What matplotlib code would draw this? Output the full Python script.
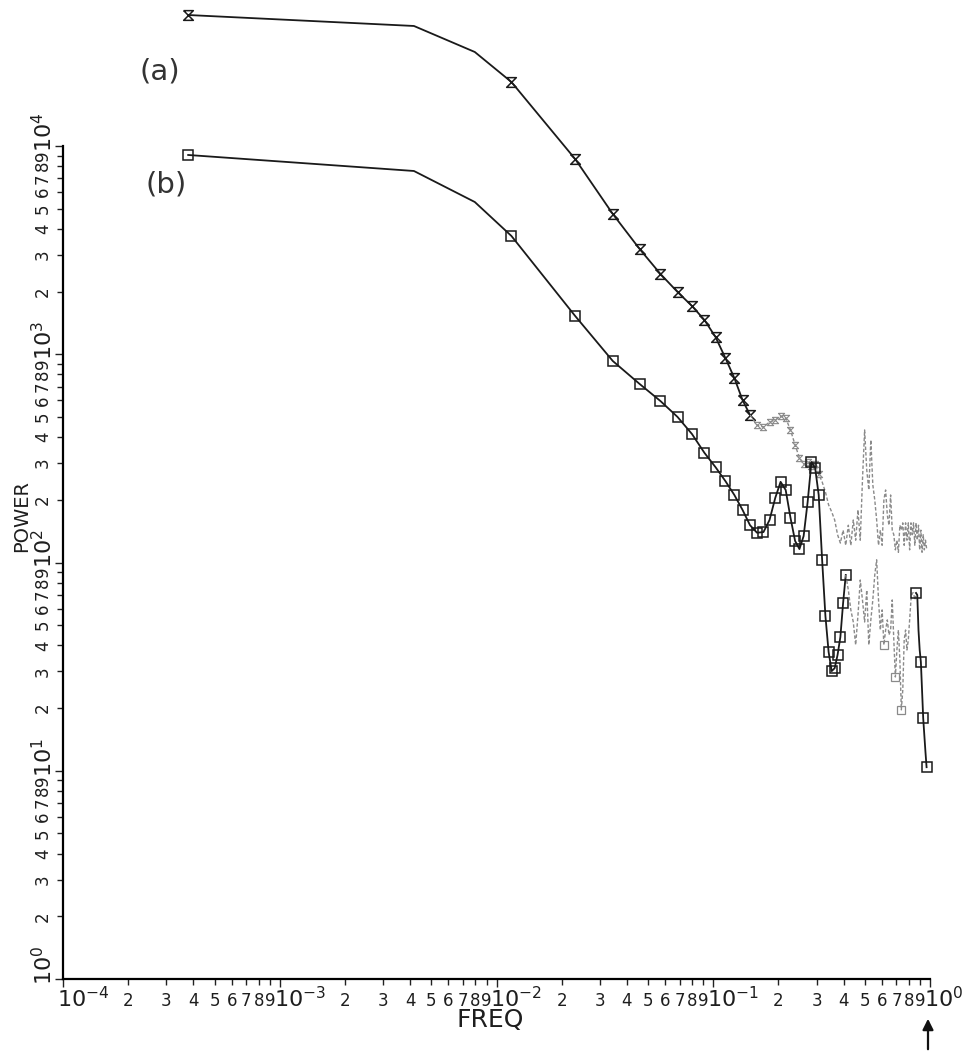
import matplotlib
matplotlib.use('Agg')
import matplotlib.pyplot as plt
from matplotlib.path import Path
from matplotlib import transforms as mtrans

# ---------------- data ----------------
freq = [0.000378, 0.00416, 0.00794, 0.01172, 0.02306, 0.03440, 0.04574, 0.05708,
        0.06842, 0.07976, 0.09110, 0.10244, 0.11378, 0.12512, 0.13646, 0.14780,
        0.15914, 0.17048, 0.18182, 0.19316, 0.20450, 0.21584, 0.22718, 0.23852,
        0.24986, 0.26120, 0.27254, 0.28388, 0.29522, 0.30656, 0.31790, 0.32924,
        0.34058, 0.35192, 0.36326, 0.37460, 0.38594, 0.39728, 0.40862, 0.41996,
        0.43130, 0.44264, 0.45398, 0.46532, 0.47666, 0.48800, 0.49934, 0.51068,
        0.52202, 0.53336, 0.54470, 0.55604, 0.56738, 0.57872, 0.59006, 0.60140,
        0.61274, 0.62408, 0.63542, 0.64676, 0.65810, 0.66944, 0.68078, 0.69212,
        0.70346, 0.71480, 0.72614, 0.73748, 0.74882, 0.76016, 0.77150, 0.78284,
        0.79418, 0.80552, 0.81686, 0.82820, 0.83954, 0.85088, 0.86222, 0.87356,
        0.88490, 0.89624, 0.90758, 0.91892, 0.93026, 0.94160, 0.95294, 0.96428]

power_a = [42560, 37700, 28280, 20290, 8660, 4716, 3202, 2429,
           1991, 1705, 1460, 1210, 959, 769, 603, 511,
           457, 447, 473, 483, 505, 494, 433, 367,
           318, 297, 304, 291, 297, 266, 244, 218,
           189, 175, 160, 136, 124, 143, 121, 151,
           121, 160, 128, 179, 128, 249, 433, 278,
           223, 388, 236, 200, 160, 121, 143, 121,
           200, 223, 169, 151, 211, 143, 136, 115,
           128, 112, 151, 143, 155, 121, 155, 128,
           155, 115, 155, 136, 155, 121, 155, 128,
           151, 115, 143, 112, 136, 115, 128, 117]

power_b = [9055, 7586, 5384, 3697, 1527, 928, 720, 596,
           500, 414, 336, 287, 246, 211, 179, 151,
           139, 140, 160, 204, 244, 223, 164, 127,
           116, 134, 195, 304, 284, 211, 103, 55.3,
           37.2, 30.1, 31.1, 36.0, 43.9, 63.9, 87.1, 73.8,
           59.2, 51.8, 40.2, 56.0, 82.4, 66.1, 51.8, 73.8,
           40.2, 53.0, 66.1, 87.1, 103, 66.1, 47.4, 59.2,
           40.2, 47.4, 53.0, 44.9, 47.4, 66.1, 42.5, 28.2,
           38.0, 47.4, 34.0, 19.6, 24.4, 42.5, 47.4, 38.0,
           42.5, 53.0, 66.1, 71.4, 71.4, 66.1, 71.4, 69.8,
           47.4, 38.0, 33.3, 24.4, 17.9, 14.8, 12.3, 10.4]

x_decades = [-4, -3, -2, -1, 0]
y_decades = [0, 1, 2, 3, 4]
minor_digits = [2, 3, 4, 5, 6, 7, 8, 9]
series_labels = ['(a)', '(b)']

# ---------------- figure ----------------
W, H = 969, 1056
fig = plt.figure(figsize=(W / 100, H / 100), dpi=100)
ax = fig.add_axes([63 / W, 77 / H, 867 / W, 979 / H])
ax.set_xscale('log')
ax.set_yscale('log')
ax.set_xlim(1e-4, 1)
ax.set_ylim(1, 10 ** (979 / 208.25))

for s in ('top', 'right'):
    ax.spines[s].set_visible(False)
ax.spines['left'].set_bounds(1, 1e4)
ax.spines['bottom'].set_bounds(1e-4, 1)
ax.spines['left'].set_linewidth(1.6)
ax.spines['bottom'].set_linewidth(1.6)

ax.set_xticks([10.0 ** d for d in x_decades])
ax.set_xticks([k * 10.0 ** d for d in x_decades[:-1] for k in minor_digits], minor=True)
ax.set_yticks([10.0 ** d for d in y_decades])
ax.set_yticks([k * 10.0 ** d for d in y_decades[:-1] for k in minor_digits], minor=True)
ax.tick_params(which='both', direction='out', labelbottom=False, labelleft=False,
               width=1.0, color='#222222')
ax.tick_params(which='major', length=6)
ax.tick_params(which='minor', length=4.5)

# tick labels drawn as text, plotter style
def off(dx, dy):
    return mtrans.ScaledTranslation(dx / 100, dy / 100, fig.dpi_scale_trans)

xt = mtrans.blended_transform_factory(ax.transData, ax.transAxes)
yt = mtrans.blended_transform_factory(ax.transAxes, ax.transData)
tc = '#1e1e1e'
for d in x_decades:
    ax.text(10.0 ** d, 0, r'$\mathregular{10^{%d}}$' % d, transform=xt + off(-6, -28),
            ha='left', va='baseline', fontsize=16, color=tc)
    if d < 0:
        for k in minor_digits:
            ax.text(k * 10.0 ** d, 0, str(k), transform=xt + off(0, -27),
                    ha='center', va='baseline', fontsize=12, color=tc)
for d in y_decades:
    ax.text(0, 10.0 ** d, r'$\mathregular{10^{%d}}$' % d, transform=yt + off(-11, -6),
            rotation=90, rotation_mode='anchor', ha='left', va='baseline',
            fontsize=16, color=tc)
    if d < 4:
        for k in minor_digits:
            ax.text(0, k * 10.0 ** d, str(k), transform=yt + off(-15, 0),
                    rotation=90, rotation_mode='anchor', ha='center', va='baseline',
                    fontsize=12, color=tc)

fig.text(490 / W, 1 - 1020 / H, 'FREQ', ha='center', va='center', fontsize=18, color=tc)
fig.text(22 / W, 1 - 516 / H, 'POWER', rotation=90, ha='center', va='center',
         fontsize=14, color=tc)

# ---------------- series ----------------
hourglass = Path([(-1, 1), (1, 1), (-1, -1), (1, -1), (-1, 1)],
                 [Path.MOVETO, Path.LINETO, Path.LINETO, Path.LINETO, Path.LINETO])
dark = '#1a1a1a'
faint = '#8a8a8a'

# (a)
ax.plot(freq[:16], power_a[:16], color=dark, lw=1.3, marker=hourglass, ms=7,
        mew=1.1, mfc='none', mec=dark, markevery=[0] + list(range(3, 16)), clip_on=False)
ax.plot(freq[15:], power_a[15:], color=faint, lw=1.0, ls=(0, (2.5, 1.5)),
        marker=hourglass, ms=4.5, mew=0.8, mfc='none', mec=faint,
        markevery=list(range(1, 15)), clip_on=False)

# (b)
ax.plot(freq[:39], power_b[:39], color=dark, lw=1.3, marker='s', ms=7,
        mew=1.1, mfc='none', mec=dark, markevery=[0] + list(range(3, 39)), clip_on=False)
ax.plot(freq[38:79], power_b[38:79], color=faint, lw=1.0, ls=(0, (2.5, 1.5)),
        marker='s', ms=6, mew=0.9, mfc='none', mec=faint, markevery=[18, 25, 29],
        clip_on=False)
ax.plot(freq[78:], power_b[78:], color=dark, lw=1.3, marker='s', ms=7,
        mew=1.1, mfc='none', mec=dark, markevery=[0, 4, 6, 9], clip_on=False)

# handwritten annotations
fig.text(160 / W, 1 - 72 / H, series_labels[0], ha='center', va='center', fontsize=21,
         color='#333333')
fig.text(166 / W, 1 - 185 / H, series_labels[1], ha='center', va='center', fontsize=21,
         color='#333333')
fig.add_artist(matplotlib.patches.FancyArrowPatch(
    (928 / W, 1 - 1052 / H), (928 / W, 1 - 1016 / H), transform=fig.transFigure,
    arrowstyle='-|>', mutation_scale=16, lw=1.6, color='#111111'))

fig.savefig('out.png', dpi=100, facecolor='white')
